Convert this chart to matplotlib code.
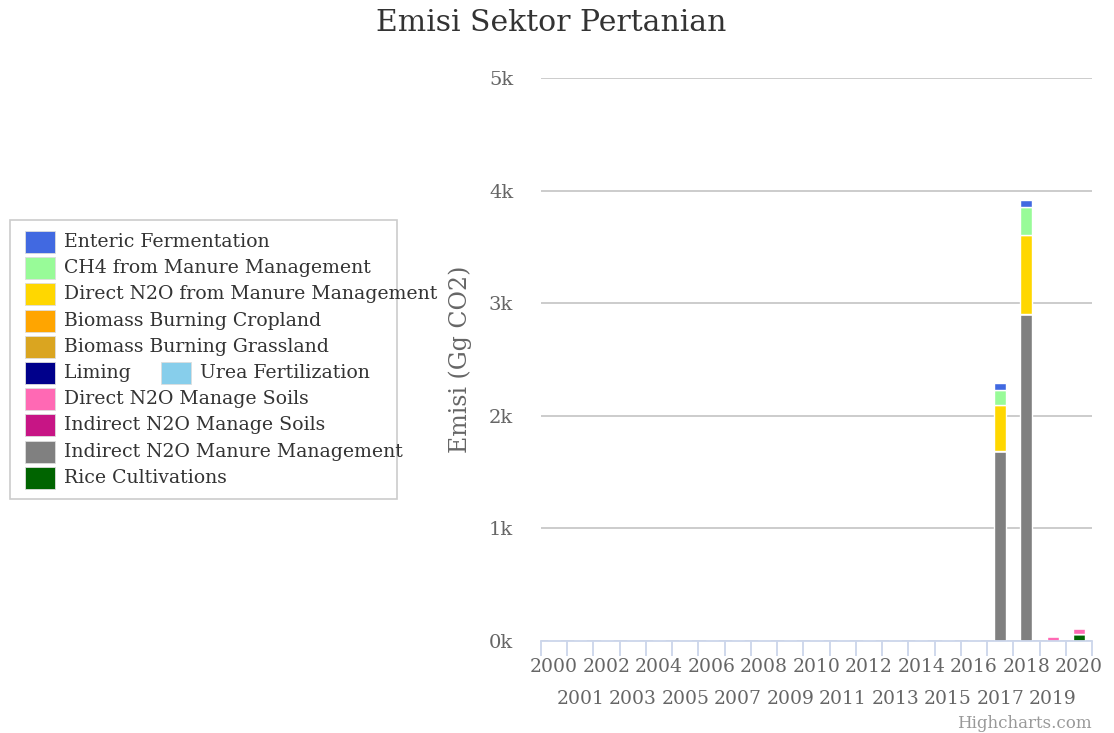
import numpy as np
import matplotlib.pyplot as plt
from matplotlib.patches import Rectangle

plt.rcParams['font.family'] = ['DejaVu Serif']

years = list(range(2000, 2021))

# series in legend order (top of stack first, like Highcharts)
series_names = [
    'Enteric Fermentation',
    'CH4 from Manure Management',
    'Direct N2O from Manure Management',
    'Biomass Burning Cropland',
    'Biomass Burning Grassland',
    'Liming',
    'Urea Fertilization',
    'Direct N2O Manage Soils',
    'Indirect N2O Manage Soils',
    'Indirect N2O Manure Management',
    'Rice Cultivations',
]
series_colors = ['#4169e1', '#98fb98', '#ffd700', '#ffa500', '#daa520',
                 '#00008b', '#87ceeb', '#ff69b4', '#c71585', '#808080', '#006400']

zeros = [0] * 17
enteric = zeros + [66, 68, 0, 0]
ch4_manure = zeros + [133, 249, 0, 0]
direct_n2o_manure = zeros + [402, 698, 0, 0]
biomass_cropland = zeros + [0, 0, 0, 0]
biomass_grassland = zeros + [0, 0, 0, 0]
liming = zeros + [0, 0, 0, 0]
urea = zeros + [0, 0, 0, 0]
direct_n2o_soils = zeros + [0, 0, 40, 55]
indirect_n2o_soils = zeros + [0, 0, 0, 0]
indirect_n2o_manure = zeros + [1690, 2904, 0, 0]
rice = zeros + [0, 0, 0, 60]

series_values = [enteric, ch4_manure, direct_n2o_manure, biomass_cropland,
                 biomass_grassland, liming, urea, direct_n2o_soils,
                 indirect_n2o_soils, indirect_n2o_manure, rice]

fig = plt.figure(figsize=(11.14, 7.33), dpi=100)
ax = fig.add_axes([541 / 1114, 1 - 641 / 733, 551 / 1114, 563 / 733])

x = np.arange(len(years))
bottom = np.zeros(len(years))
# stack from the last series upwards
for name, color, vals in reversed(list(zip(series_names, series_colors, series_values))):
    vals = np.array(vals, dtype=float)
    ax.bar(x, vals, bottom=bottom, width=0.46, color=color,
           edgecolor='white', linewidth=1, zorder=3)
    bottom += vals

ax.set_xlim(-0.5, len(years) - 0.5)
ax.set_ylim(0, 5000)
ax.set_yticks([0, 1000, 2000, 3000, 4000, 5000])
ax.set_yticklabels(['0k', '1k', '2k', '3k', '4k', '5k'])
ax.yaxis.grid(True, color='#c8c8c8', linewidth=1.3, zorder=0)
ax.tick_params(axis='y', length=0, pad=20, labelsize=14, labelcolor='#666666')

# year labels staggered on two rows
ax.set_xticks(x)
ax.set_xticklabels([str(y) for y in years])
ax.tick_params(axis='x', length=0, labelsize=13.5, labelcolor='#666666')
for i, tick in enumerate(ax.xaxis.get_major_ticks()):
    tick.set_pad(12.5 if i % 2 == 0 else 35)
ax.set_xticks(np.arange(len(years) + 1) - 0.5, minor=True)
ax.tick_params(axis='x', which='minor', length=11, color='#ccd6eb', width=1.3)

for side in ['top', 'right', 'left']:
    ax.spines[side].set_visible(False)
ax.spines['bottom'].set_color('#ccd6eb')
ax.spines['bottom'].set_linewidth(1.3)
ax.spines['bottom'].set_zorder(4)

ax.set_ylabel('Emisi (Gg CO2)', fontsize=17, color='#666666', labelpad=12)

fig.text(551 / 1114, 1 - 23 / 733, 'Emisi Sektor Pertanian', ha='center', va='center',
         fontsize=21.5, color='#333333')
fig.text(1092 / 1114, 1 - 723 / 733, 'Highcharts.com', ha='right', va='center',
         fontsize=12, color='#999999')

# legend drawn by hand so Liming and Urea share a row like the original
W, H = 1114, 733
fig.patches.append(Rectangle((10 / W, 1 - 499 / H), 387 / W, 279 / H,
                             transform=fig.transFigure, facecolor='white',
                             edgecolor='#cccccc', linewidth=1.2))
legend_rows = [0, 1, 2, 3, 4, 5, 5, 6, 7, 8, 9]
legend_cols = [25, 25, 25, 25, 25, 25, 161, 25, 25, 25, 25]
for name, color, row, col in zip(series_names, series_colors, legend_rows, legend_cols):
    yc = 242 + row * 26.2
    fig.patches.append(Rectangle((col / W, 1 - (yc + 11) / H), 30 / W, 22 / H,
                                 transform=fig.transFigure, facecolor=color,
                                 edgecolor='#dddddd', linewidth=0.6))
    fig.text((col + 39) / W, 1 - yc / H, name, ha='left', va='center',
             fontsize=13.6, color='#333333')

fig.savefig('out.png', dpi=100)
